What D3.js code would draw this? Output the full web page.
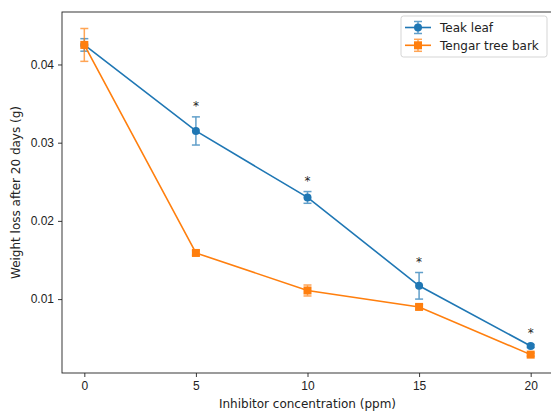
<!DOCTYPE html>
<html>
<head>
<meta charset="utf-8">
<script src="https://cdn.jsdelivr.net/npm/d3@7"></script>
<style>
  body { margin: 0; background: #fff; }
  svg { font-family: "DejaVu Sans", sans-serif; }
  .tick text { font-size: 12px; fill: #222; }
</style>
</head>
<body>
<svg width="551" height="412"></svg>
<script>
const concentrations = [0, 5, 10, 15, 20];
const teakMean = [0.0425, 0.0315, 0.0230, 0.0117, 0.0040];
const teakErr = [0.0008, 0.0018, 0.00075, 0.0017, 0.0002];
const barkMean = [0.0425, 0.0159, 0.0111, 0.0090, 0.0029];
const barkErr = [0.0021, 0.0003, 0.0007, 0.0003, 0.0002];
const significant = [false, true, true, true, true];
const xTicks = [0, 5, 10, 15, 20];
const yTicks = [0.01, 0.02, 0.03, 0.04];

const series = [
    { name: 'Teak leaf', color: '#1f77b4', shape: 'circle', mean: teakMean, err: teakErr },
    { name: 'Tengar tree bark', color: '#ff7f0e', shape: 'square', mean: barkMean, err: barkErr }
];

const svg = d3.select('svg');
const margin = { top: 12, right: 0, bottom: 39, left: 62 };
const width = +svg.attr('width');
const height = +svg.attr('height');
const innerHeight = height - margin.top - margin.bottom;
const plotWidth = 491;

const xScale = d3.scaleLinear().domain([-1, 21]).range([0, plotWidth]);
const yScale = d3.scaleLinear().domain([0.00055, 0.04671]).range([innerHeight, 0]);

const g = svg.append('g')
    .attr('transform', `translate(${margin.left}, ${margin.top})`);

// axes
const xAxis = d3.axisBottom(xScale).tickValues(xTicks).tickSize(4).tickPadding(4);
const xAxisG = g.append('g').attr('transform', `translate(0, ${innerHeight})`).call(xAxis);
const yAxis = d3.axisLeft(yScale).tickValues(yTicks).tickSize(4).tickPadding(4)
    .tickFormat(d3.format('.2f'));
const yAxisG = g.append('g').call(yAxis);
[xAxisG, yAxisG].forEach(a => {
    a.select('.domain').remove();
    a.selectAll('.tick line').attr('stroke', '#222').attr('stroke-width', 0.9);
});

// spines
g.append('rect')
    .attr('width', plotWidth).attr('height', innerHeight)
    .attr('fill', 'none').attr('stroke', '#222').attr('stroke-width', 0.9);

g.append('text')
    .attr('x', (xScale(0) + xScale(20)) / 2).attr('y', innerHeight + 35)
    .attr('text-anchor', 'middle').style('font-size', '12px').attr('fill', '#222')
    .text('Inhibitor concentration (ppm)');

g.append('text')
    .attr('transform', 'rotate(-90)')
    .attr('x', -innerHeight / 2).attr('y', -42)
    .attr('text-anchor', 'middle').style('font-size', '12px').attr('fill', '#222')
    .text('Weight loss after 20 days (g)');

const line = d3.line()
    .x((d, i) => xScale(concentrations[i]))
    .y(d => yScale(d));

const drawMarker = (sel, shape, color, x, y) => {
    if (shape === 'circle') {
        sel.append('circle').attr('cx', x).attr('cy', y).attr('r', 4).attr('fill', color);
    } else {
        sel.append('rect').attr('x', x - 4).attr('y', y - 4)
            .attr('width', 8).attr('height', 8).attr('fill', color);
    }
};

series.forEach(s => {
    const sg = g.append('g');
    sg.append('path')
        .attr('d', line(s.mean))
        .attr('fill', 'none')
        .attr('stroke', s.color)
        .attr('stroke-width', 1.6);
    s.mean.forEach((m, i) => {
        const x = xScale(concentrations[i]);
        const y0 = yScale(m - s.err[i]);
        const y1 = yScale(m + s.err[i]);
        const eg = sg.append('g').attr('stroke', s.color).attr('stroke-width', 1.5).attr('opacity', 0.7);
        eg.append('line').attr('x1', x).attr('x2', x).attr('y1', y0).attr('y2', y1);
        eg.append('line').attr('x1', x - 4).attr('x2', x + 4).attr('y1', y0).attr('y2', y0);
        eg.append('line').attr('x1', x - 4).attr('x2', x + 4).attr('y1', y1).attr('y2', y1);
        drawMarker(sg, s.shape, s.color, x, yScale(m));
    });
});

// significance stars
concentrations.forEach((c, i) => {
    if (!significant[i]) return;
    g.append('text')
        .attr('x', xScale(c))
        .attr('y', yScale(teakMean[i] + teakErr[i]) - 7)
        .attr('text-anchor', 'middle')
        .style('font-size', '12px')
        .attr('fill', '#222')
        .text('*');
});

// legend
const legend = g.append('g').attr('transform', 'translate(339, 4)');
legend.append('rect')
    .attr('width', 146).attr('height', 41).attr('rx', 2.5)
    .attr('fill', '#fff').attr('fill-opacity', 0.8)
    .attr('stroke', '#d0d0d0').attr('stroke-width', 0.9);
series.forEach((s, i) => {
    const ly = 11.5 + i * 17.8;
    const lg = legend.append('g');
    lg.append('line').attr('x1', 4).attr('x2', 30).attr('y1', ly).attr('y2', ly)
        .attr('stroke', s.color).attr('stroke-width', 1.6);
    const eg = lg.append('g').attr('stroke', s.color).attr('stroke-width', 1.5).attr('opacity', 0.7);
    eg.append('line').attr('x1', 17).attr('x2', 17).attr('y1', ly - 6).attr('y2', ly + 6);
    eg.append('line').attr('x1', 13).attr('x2', 21).attr('y1', ly - 6).attr('y2', ly - 6);
    eg.append('line').attr('x1', 13).attr('x2', 21).attr('y1', ly + 6).attr('y2', ly + 6);
    drawMarker(lg, s.shape, s.color, 17, ly);
    lg.append('text').attr('x', 39).attr('y', ly + 4.5)
        .style('font-size', '12px').attr('fill', '#222')
        .text(s.name);
});
</script>
</body>
</html>
